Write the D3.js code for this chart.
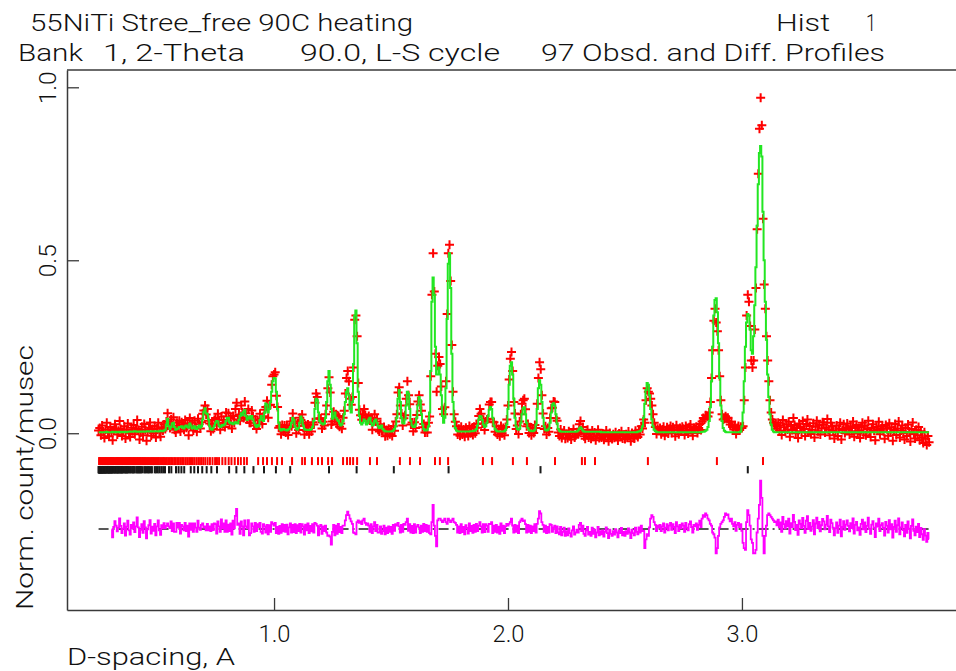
<!DOCTYPE html>
<html>
<head>
<meta charset="utf-8">
<script src="https://cdn.jsdelivr.net/npm/d3@7"></script>
<style>
  body { margin: 0; background: #fff; }
  svg text { font-family: "Roboto", "DejaVu Sans", sans-serif; font-weight: 300; fill: #111; }
</style>
</head>
<body>
<svg id="chart" width="956" height="671"></svg>
<script>
// TOF histogram on a regular d-spacing grid (Angstrom)
const dStart = 0.25;
const dStep = 0.005;

// Observed intensity, 1e-3 count/musec
const obsMilli = [
  8,15,-6,22,3,-14,11,30,5,-9,
  18,2,-20,9,26,14,-4,7,35,12,
  -8,4,20,-15,10,28,0,-11,16,6,
  24,-3,13,38,9,-18,2,19,-6,27,
  10,-22,5,16,31,-7,12,0,21,-12,
  14,30,2,-10,17,8,25,12,34,58,
  28,15,40,22,46,10,2,30,18,36,
  5,32,24,10,38,16,28,-6,44,20,
  30,8,36,18,4,42,26,14,32,56,
  66,80,54,70,36,28,6,24,12,38,
  44,22,56,30,10,48,26,38,18,60,
  36,58,26,44,14,50,30,70,88,40,
  54,36,80,60,44,92,58,40,70,30,
  30,66,48,22,40,12,38,26,56,42,
  27,49,68,76,94,45,81,82,140,165,
  170,176,108,76,16,21,-3,24,5,22,
  2,21,-5,17,34,20,57,29,34,0,
  21,9,45,38,54,30,-4,23,6,25,
  -3,19,5,32,25,88,115,105,42,43,
  42,14,33,22,55,80,130,162,118,25,
  34,62,42,55,26,50,19,28,13,45,
  65,115,160,180,150,100,82,105,190,328,
  340,280,145,68,52,39,55,70,53,37,
  44,50,37,44,10,33,55,34,42,10,
  5,26,8,6,18,-9,9,-7,13,-3,
  11,-8,20,7,34,55,118,133,80,57,
  22,43,52,100,150,110,84,25,31,6,
  32,15,53,92,110,83,65,17,27,2,
  20,2,30,48,165,400,520,410,230,120,
  195,220,200,135,70,55,75,150,345,520,
  545,440,255,120,55,33,20,-4,13,-7,
  19,-4,11,-10,16,8,-8,21,0,15,
  -5,19,0,27,16,50,70,56,28,39,
  9,34,40,42,83,90,90,33,32,4,
  20,-4,12,-9,21,0,15,-6,18,40,
  80,155,215,235,180,90,57,12,22,-2,
  34,55,85,95,100,69,20,27,1,17,
  -6,14,1,24,15,85,160,205,185,110,
  57,12,20,-4,15,4,44,72,74,92,
  90,43,36,2,-8,11,-14,-4,8,-16,
  -2,-14,6,-8,-18,0,12,-12,-6,3,
  -2,26,35,8,18,-9,-16,0,10,-12,
  -4,-16,8,-10,2,-20,-6,10,-14,-2,
  -12,-1,-19,-5,8,-9,-23,1,-11,-17,
  -3,-13,3,-7,-21,-1,-9,6,-15,-5,
  -17,-3,-11,5,-7,-23,1,-9,-15,7,
  -5,-11,10,-4,20,14,40,30,95,130,
  120,115,100,80,55,30,18,-2,13,7,
  15,-3,11,19,-7,7,17,-1,13,21,
  1,17,9,-9,23,11,-3,15,5,19,
  13,-5,21,7,-1,17,25,9,-7,15,
  11,19,1,15,27,9,34,44,40,52,
  50,48,60,90,160,240,325,360,320,295,
  240,165,95,55,40,42,49,43,45,33,
  25,33,18,11,23,-2,15,21,9,19,
  15,20,95,190,340,400,380,310,210,190,
  210,300,420,590,750,880,970,890,620,430,
  360,280,210,150,95,60,40,30,23,25,
  14,30,8,22,-5,38,17,4,26,11,
  33,-10,20,9,44,24,0,15,-14,28,
  18,6,35,12,-8,27,40,3,21,-2,
  10,29,-12,19,36,6,24,-4,14,32,
  25,2,16,41,11,-6,30,20,7,-15,
  5,22,-8,13,30,-18,9,26,1,16,
  28,12,-4,20,6,34,-10,15,24,-1,
  8,-14,18,30,2,22,-6,12,36,4,
  -11,16,26,7,-20,19,10,33,-3,14,
  20,6,-16,24,13,-7,29,2,17,-22,
  9,27,-5,14,34,-12,8,22,0,-18,
  15,-8,25,4,-24,12,31,-2,-15,10,
  -6,18,-20,6,-12,-28,3,-16,-34,-8,
  -26
];

// Calculated profile, 1e-3 count/musec
const calcMilli = [
  3,3,3,3,3,3,3,4,3,3,
  3,3,4,3,3,4,3,3,4,3,
  4,3,4,4,3,4,4,5,4,4,
  5,6,5,4,4,5,4,5,5,4,
  5,5,6,5,5,6,5,5,6,6,
  6,5,6,7,6,6,8,10,25,42,
  20,12,18,28,30,18,10,12,14,18,
  18,20,16,14,20,22,18,16,28,22,
  14,16,20,14,12,18,22,16,20,40,
  62,72,58,55,40,20,12,10,15,22,
  30,35,34,22,18,20,24,22,26,35,
  44,45,32,28,30,26,28,32,30,28,
  38,50,58,52,62,67,50,38,44,48,
  42,50,40,30,22,18,24,20,38,50,
  40,35,60,86,82,60,70,90,120,150,
  160,158,120,70,30,12,8,10,12,10,
  10,8,10,12,18,30,45,38,20,12,
  10,15,30,48,40,22,12,10,10,9,
  9,10,12,18,35,70,100,95,60,35,
  30,28,25,28,45,90,150,180,140,70,
  42,50,60,45,40,35,28,22,25,35,
  55,90,120,130,110,70,60,90,200,340,
  355,260,120,50,30,25,30,40,35,25,
  28,40,45,30,22,25,35,40,30,20,
  15,18,22,12,8,6,5,5,5,5,
  5,6,8,12,20,45,100,125,90,45,
  30,28,40,80,120,115,70,35,22,18,
  18,25,45,80,105,95,55,25,12,8,
  8,10,20,60,180,380,450,400,250,170,
  170,190,170,110,50,30,45,130,330,490,
  520,420,230,90,35,15,8,6,5,5,
  5,5,5,5,5,5,5,5,6,6,
  6,7,8,12,22,40,50,48,38,25,
  18,20,30,50,68,76,70,45,22,12,
  8,6,5,5,5,5,5,6,10,25,
  70,140,195,205,170,100,45,20,12,10,
  14,30,55,72,75,55,30,15,9,7,
  6,6,7,10,25,70,130,153,140,90,
  45,20,10,8,9,14,30,60,82,87,
  80,55,28,12,7,5,4,4,4,4,
  4,4,4,4,4,4,4,4,4,5,
  8,14,17,14,8,5,4,4,4,4,
  4,4,4,4,4,4,4,4,4,4,
  3,3,3,3,3,3,3,3,3,3,
  3,3,3,3,3,3,3,3,3,3,
  3,3,3,3,3,3,3,3,3,3,
  3,4,5,6,10,20,45,85,125,145,
  140,110,70,40,20,10,6,4,3,3,
  3,3,3,3,3,3,3,3,3,3,
  3,3,3,3,3,3,3,3,3,3,
  3,3,3,3,3,3,3,3,3,3,
  3,3,3,3,3,3,4,4,5,7,
  10,18,35,75,150,250,340,385,390,350,
  260,160,80,35,15,7,4,3,3,3,
  3,3,3,3,3,3,3,3,3,5,
  20,60,150,250,320,345,340,300,240,230,
  280,370,480,600,720,810,830,800,640,500,
  380,270,170,105,55,25,10,5,3,3,
  3,3,3,3,3,3,3,3,3,3,
  3,3,3,3,3,3,3,3,3,3,
  3,3,3,3,3,3,3,3,3,3,
  3,3,3,3,3,3,3,3,3,3,
  3,3,3,3,3,3,3,3,3,3,
  3,3,3,3,3,3,3,3,3,3,
  3,3,3,3,3,3,3,3,3,3,
  3,3,3,3,3,3,3,3,3,3,
  3,3,3,3,3,3,3,3,3,3,
  3,3,3,3,3,3,3,3,3,3,
  3,3,3,3,3,3,3,3,3,3,
  3,3,3,3,3,3,3,3,3,3,
  3,3,3,3,3,3,3,3,3,3,
  3
];

// Lower d limit of the refined range (difference curve starts here)
const diffFrom = 0.305;
// Vertical offset of the difference curve
const diffOffset = -0.277;

// Reflection positions, phase 1 (red row)
const phase1Ticks = [
  0.252,0.256,0.259,0.263,0.267,0.270,0.274,0.278,0.281,0.285,0.289,0.292,0.296,0.300,
  0.303,0.307,0.311,0.314,0.318,0.322,0.326,0.329,0.333,0.337,0.341,0.345,0.349,0.352,
  0.356,0.360,0.364,0.368,0.372,0.376,0.380,0.384,0.388,0.392,0.397,0.401,0.405,0.409,
  0.414,0.418,0.422,0.427,0.431,0.436,0.440,0.445,0.449,0.454,0.459,0.463,0.468,0.473,
  0.478,0.483,0.488,0.493,0.498,0.503,0.508,0.514,0.519,0.525,0.530,0.536,0.542,0.548,
  0.554,0.560,0.566,0.573,0.579,0.586,0.593,0.600,0.607,0.614,0.622,0.629,0.637,0.645,
  0.653,0.661,0.670,0.679,0.688,0.697,0.706,0.716,0.726,0.737,0.748,0.756,
  0.765,0.779,0.792,0.806,0.818,0.832,0.846,0.858,0.872,0.884,
  0.932,0.953,0.970,0.991,1.013,1.034,1.077,1.120,1.132,1.162,
  1.188,1.205,1.231,1.248,1.295,1.312,1.325,1.338,1.355,1.410,1.440,1.538,1.581,1.624,
  1.688,1.709,1.744,1.893,1.932,2.021,2.081,2.201,2.316,2.329,2.372,2.598,2.893,3.090
];

// Reflection positions, phase 2 (black row, cubic B2)
const phase2Ticks = [
  3.025,2.139,1.746,1.512,1.353,1.235,1.069,1.008,0.957,0.912,0.873,0.839,0.808,0.756,
  0.732,0.712,0.693,0.675,0.659,0.644,0.616,0.604,0.592,0.581,0.561,0.551,0.534,0.526,
  0.518,0.510,0.503,0.496,0.490,0.478,0.472,0.466,0.461,0.455,0.450,0.445,0.436,0.431,
  0.427,0.423,0.419,0.415,0.411,0.404,0.400,0.397,0.393,0.387,0.384,0.378,0.375,0.372,
  0.369,0.366,0.364,0.361,0.356,0.353,0.351,0.349,0.346,0.344,0.342,0.338,0.336,0.334,
  0.331,0.330,0.328,0.326,0.322,0.320,0.318,0.317,0.313,0.311,0.308,0.307,0.305,0.304,
  0.302,0.300,0.299,0.296,0.295,0.293,0.292,0.291,0.289,0.288,0.284,0.283,0.282,0.280,
  0.279,0.278,0.276,0.275,0.273,0.272,0.270,0.269,0.267,0.266,0.265,0.264,0.263,0.262,
  0.261,0.259,0.258,0.257,0.256,0.255,0.254,0.253,0.252,0.251,0.250
];

const xTicks = [1.0, 2.0, 3.0];
const xTickLabels = ["1.0", "2.0", "3.0"];
const yTicks = [0.0, 0.5, 1.0];
const yTickLabels = ["0.0", "0.5", "1.0"];

// ---------------------------------------------------------------
const svg = d3.select("#chart");

const x = d3.scaleLinear().domain([0.115, 3.915]).range([67, 956]);
const y = d3.scaleLinear().domain([-0.511, 1.05]).range([610, 70]);

const points = obsMilli.map((v, i) => ({
  d: dStart + i * dStep,
  obs: v / 1000,
  calc: calcMilli[i] / 1000
}));
points.forEach(p => { p.diff = p.obs - p.calc; });

const frameColor = "#3a3a3a";

// top edge of the frame
svg.append("line")
  .attr("x1", x(0.115)).attr("x2", x(3.915))
  .attr("y1", y(1.05)).attr("y2", y(1.05))
  .attr("stroke", frameColor).attr("stroke-width", 1.5);

// axes (ticks point inward)
const gy = svg.append("g")
  .attr("transform", `translate(${x(0.115)},0)`)
  .call(d3.axisLeft(y).tickValues(yTicks)
        .tickFormat((d, i) => yTickLabels[i])
        .tickSize(-12).tickSizeOuter(0));
gy.attr("font-size", null).attr("font-family", null).attr("color", frameColor);
gy.select(".domain").attr("stroke-width", 1.5);
gy.selectAll(".tick line").attr("stroke-width", 1.3);
gy.selectAll(".tick text")
  .attr("x", null).attr("dy", null)
  .attr("transform", "translate(-11,0) rotate(-90)")
  .attr("text-anchor", "middle")
  .attr("font-size", 23)
  .attr("textLength", 33).attr("lengthAdjust", "spacingAndGlyphs");

const gx = svg.append("g")
  .attr("transform", `translate(0,${y(-0.511)})`)
  .call(d3.axisBottom(x).tickValues(xTicks)
        .tickFormat((d, i) => xTickLabels[i])
        .tickSize(-12).tickSizeOuter(0));
gx.attr("font-size", null).attr("font-family", null).attr("color", frameColor);
gx.select(".domain").attr("stroke-width", 1.5);
gx.selectAll(".tick line").attr("stroke-width", 1.3);
gx.selectAll(".tick text")
  .attr("y", 32).attr("dy", null)
  .attr("font-size", 23)
  .attr("textLength", 32).attr("lengthAdjust", "spacingAndGlyphs");

// observed points as "+" markers
svg.append("g")
  .attr("stroke", "#ff0000").attr("stroke-width", 2).attr("fill", "none")
  .selectAll("path").data(points).join("path")
  .attr("d", "M-4.5,0H4.5M0,-4.5V4.5")
  .attr("transform", p => `translate(${x(p.d)},${y(p.obs)})`);

// calculated profile
svg.append("path")
  .datum(points)
  .attr("fill", "none").attr("stroke", "#22e622").attr("stroke-width", 2)
  .attr("d", d3.line().x(p => x(p.d)).y(p => y(p.calc)).curve(d3.curveStep));

// reflection markers
svg.append("g")
  .attr("stroke", "#ff0000").attr("stroke-width", 2)
  .selectAll("line").data(phase1Ticks).join("line")
  .attr("x1", d => x(d)).attr("x2", d => x(d))
  .attr("y1", y(-0.069)).attr("y2", y(-0.092));
svg.append("g")
  .attr("stroke", "#1a1a1a").attr("stroke-width", 2)
  .selectAll("line").data(phase2Ticks).join("line")
  .attr("x1", d => x(d)).attr("x2", d => x(d))
  .attr("y1", y(-0.095)).attr("y2", y(-0.116));

// zero line of the difference curve
svg.append("line")
  .attr("x1", x(points[0].d)).attr("x2", x(points[points.length - 1].d))
  .attr("y1", y(diffOffset)).attr("y2", y(diffOffset))
  .attr("stroke", "#222").attr("stroke-width", 1.5)
  .attr("stroke-dasharray", "10,4,2,4");

// difference (obs - calc)
svg.append("path")
  .datum(points.filter(p => p.d >= diffFrom - 1e-9))
  .attr("fill", "none").attr("stroke", "#ff00ff").attr("stroke-width", 1.8)
  .attr("d", d3.line().x(p => x(p.d)).y(p => y(diffOffset + p.diff)).curve(d3.curveStep));

// titles and axis names
const label = (txt, px, py, len) => {
  const t = svg.append("text").attr("x", px).attr("y", py)
    .attr("font-size", 23).text(txt);
  if (len) t.attr("textLength", len).attr("lengthAdjust", "spacingAndGlyphs");
  return t;
};
label("55NiTi Stree_free 90C heating", 30, 31, 383);
label("Hist", 776, 31, 54);
label("1", 866, 31, 10);
label("Bank", 18, 61, 65);
label("1, 2-Theta", 103, 61, 142);
label("90.0, L-S cycle", 300, 61, 200);
label("97 Obsd. and Diff. Profiles", 541, 61, 344);
label("D-spacing, A", 67, 665, 168);

svg.append("text")
  .attr("transform", "translate(33,610) rotate(-90)")
  .attr("font-size", 23)
  .attr("textLength", 265).attr("lengthAdjust", "spacingAndGlyphs")
  .text("Norm. count/musec");
</script>
</body>
</html>
